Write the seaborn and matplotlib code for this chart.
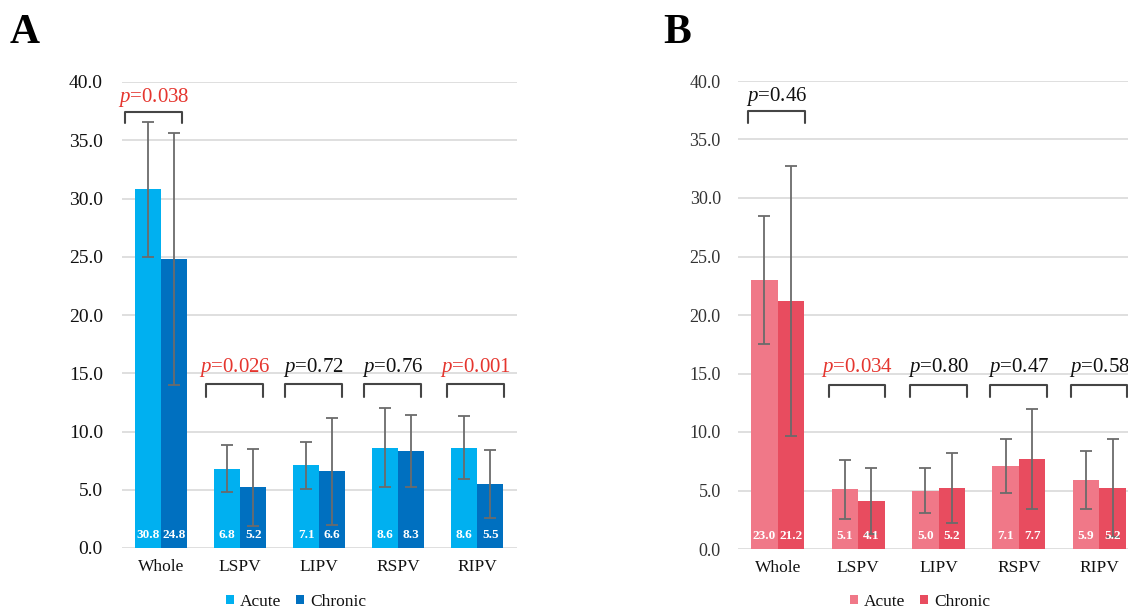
import numpy as np
import pandas as pd
import matplotlib
matplotlib.use("Agg")
import matplotlib.pyplot as plt
import seaborn as sns
from matplotlib.patches import Patch
from matplotlib.ticker import FormatStrFormatter

# ---------------- data ----------------
sites = ["Whole", "LSPV", "LIPV", "RSPV", "RIPV"]
groups = ["Acute", "Chronic"]

a_acute = [30.8, 6.8, 7.1, 8.6, 8.6]
a_chronic = [24.8, 5.2, 6.6, 8.3, 5.5]
a_acute_sd = [5.8, 2.0, 2.0, 3.4, 2.7]
a_chronic_sd = [10.8, 3.3, 4.6, 3.1, 2.9]
a_pvals = ["0.038", "0.026", "0.72", "0.76", "0.001"]
a_sig = [True, True, False, False, True]

b_acute = [23.0, 5.1, 5.0, 7.1, 5.9]
b_chronic = [21.2, 4.1, 5.2, 7.7, 5.2]
b_acute_sd = [5.5, 2.5, 1.95, 2.3, 2.5]
b_chronic_sd = [11.55, 2.85, 3.0, 4.3, 4.2]
b_pvals = ["0.46", "0.034", "0.80", "0.47", "0.58"]
b_sig = [False, True, False, False, False]

# ---------------- style / layout ----------------
sns.set_style("white")
plt.rcParams["font.family"] = ["Liberation Serif", "DejaVu Serif"]
plt.rcParams["mathtext.fontset"] = "custom"
plt.rcParams["mathtext.it"] = "Liberation Serif:italic"
plt.rcParams["mathtext.rm"] = "Liberation Serif"
plt.rcParams["text.color"] = "#000000"

palette_a = ["#00B0F0", "#0070C0"]
palette_b = ["#F07888", "#E84C5F"]
red = "#E5352E"

br_a = [(-0.458, 0.26), (-0.434, 0.287), (-0.433, 0.292), (-0.43, 0.29), (-0.387, 0.34)]
br_b = [(-0.366, 0.345), (-0.358, 0.34), (-0.36, 0.35), (-0.36, 0.355), (-0.35, 0.35)]

fig = plt.figure(figsize=(11.28, 6.11), dpi=100)
ax_a = fig.add_axes([121.7 / 1128, 63 / 611, 395 / 1128, 466 / 611])
ax_b = fig.add_axes([737.5 / 1128, 62 / 611, 402 / 1128, 468 / 611])


def draw_panel(ax, acute, chronic, acute_sd, chronic_sd, pvals, sig, palette,
               br, tick_size, tick_color, tick_pad):
    df = pd.DataFrame({
        "site": sites * 2,
        "group": [groups[0]] * len(sites) + [groups[1]] * len(sites),
        "value": list(acute) + list(chronic),
    })
    sns.barplot(data=df, x="site", y="value", hue="group", order=sites,
                hue_order=groups, palette=palette, width=0.66, gap=0,
                errorbar=None, legend=False, saturation=1, ax=ax, zorder=2,
                linewidth=0, edgecolor="none")
    conts = list(ax.containers)[:2]
    for cont, vals, sds in zip(conts, [acute, chronic], [acute_sd, chronic_sd]):
        for bar, v, s in zip(cont, vals, sds):
            xc = bar.get_x() + bar.get_width() / 2
            ax.errorbar(xc, bar.get_height(), yerr=s, color="#6b6b6b",
                        elinewidth=1.3, capsize=4, capthick=1.3, zorder=3)
            ax.text(xc, 1.1, f"{v:.1f}", color="white", ha="center",
                    va="center", fontsize=9.5, fontweight="bold", zorder=4)
    for i, (p, s, (lo, hi)) in enumerate(zip(pvals, sig, br)):
        top, leg, ty = (37.45, 36.45, 38.25) if i == 0 else (14.05, 13.0, 15.1)
        x0, x1 = i + lo, i + hi
        ax.plot([x0, x0, x1, x1], [leg, top, top, leg], color="#454545",
                lw=1.5, clip_on=False, zorder=5)
        ax.text((x0 + x1) / 2, ty, rf"$p$={p}", color=red if s else "#111111",
                fontsize=15, ha="center", va="baseline", clip_on=False)

    ax.set_xlim(-0.5, 4.5)
    ax.set_ylim(0, 40)
    ax.set_yticks(np.arange(0, 40.1, 5))
    ax.yaxis.set_major_formatter(FormatStrFormatter("%.1f"))
    ax.grid(axis="y", color="#d9d9d9", lw=1.2)
    ax.grid(axis="x", visible=False)
    ax.set_axisbelow(True)
    sns.despine(ax=ax, left=True, bottom=True)
    ax.tick_params(axis="y", length=0, pad=tick_pad, labelsize=tick_size,
                   labelcolor=tick_color)
    ax.tick_params(axis="x", length=0, pad=8, labelsize=12.5,
                   labelcolor="#111111")
    ax.set_xlabel("")
    ax.set_ylabel("")


draw_panel(ax_a, a_acute, a_chronic, a_acute_sd, a_chronic_sd, a_pvals, a_sig,
           palette_a, br_a, 14, "#111111", 13.5)
draw_panel(ax_b, b_acute, b_chronic, b_acute_sd, b_chronic_sd, b_pvals, b_sig,
           palette_b, br_b, 13, "#333333", 12)

for label, x in [("A", 10), ("B", 663)]:
    fig.text(x / 1128, 1 - 43 / 611, label, fontsize=30, fontweight="bold",
             va="baseline", ha="left", color="#000000")

for pal, cx in [(palette_a, 296), (palette_b, 920)]:
    handles = [Patch(facecolor=c, edgecolor="none") for c in pal]
    fig.legend(handles, groups, loc="center",
               bbox_to_anchor=(cx / 1128, 1 - 602 / 611), ncol=2,
               frameon=False, fontsize=12.5, handlelength=0.45,
               handleheight=0.45, handletextpad=0.35, columnspacing=0.85,
               borderpad=0, borderaxespad=0, labelcolor="#111111")

fig.savefig("out.png", dpi=100)
